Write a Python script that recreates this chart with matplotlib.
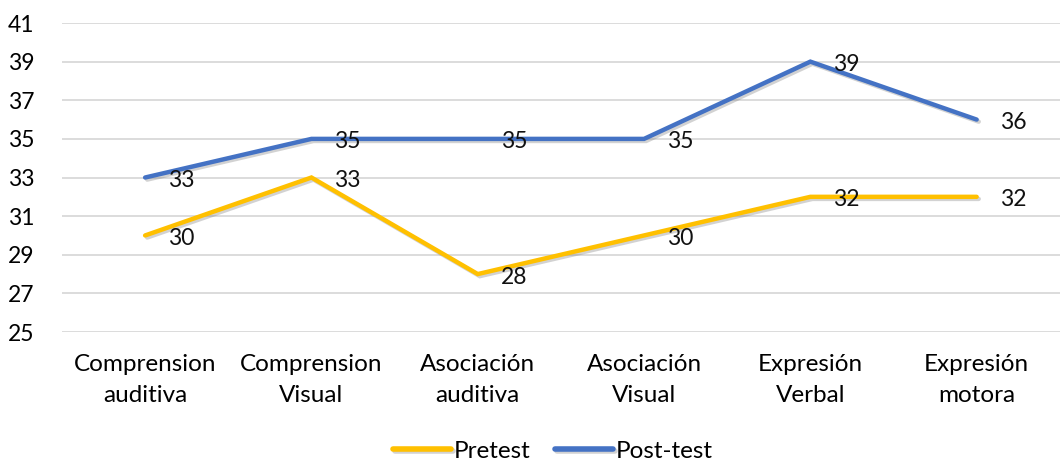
import matplotlib
matplotlib.use("Agg")
import matplotlib.pyplot as plt
import matplotlib.patheffects as pe

categories = ["Comprension\nauditiva", "Comprension\nVisual", "Asociación\nauditiva",
              "Asociación\nVisual", "Expresión\nVerbal", "Expresión\nmotora"]
pretest = [30, 33, 28, 30, 32, 32]
posttest = [33, 35, 35, 35, 39, 36]
yticks = [25, 27, 29, 31, 33, 35, 37, 39, 41]

plt.rcParams['font.family'] = ['Lato', 'DejaVu Sans']
FS = 16.5
FSX = 17.5

fig = plt.figure(figsize=(10.63, 4.65), dpi=100)
ax = fig.add_axes([0.0583, 0.286, 0.9387, 0.6645])

x = list(range(len(categories)))
shadow = [pe.SimpleLineShadow(offset=(1.5, -1.5), alpha=0.35, shadow_color='gray'), pe.Normal()]
ax.plot(x, pretest, color='#FFC000', lw=3.2, solid_capstyle='round', solid_joinstyle='miter',
        label='Pretest', path_effects=shadow, zorder=3)
ax.plot(x, posttest, color='#4472C4', lw=3.2, solid_capstyle='round', solid_joinstyle='miter',
        label='Post-test', path_effects=shadow, zorder=3)

for xi, v in zip(x, pretest):
    ax.annotate(str(v), (xi, v), xytext=(23, -3), textcoords='offset pixels',
                ha='left', va='center', fontsize=FS, color='#111111', zorder=4)
for xi, v in zip(x, posttest):
    ax.annotate(str(v), (xi, v), xytext=(23, -3), textcoords='offset pixels',
                ha='left', va='center', fontsize=FS, color='#111111', zorder=4)

ax.set_xlim(-0.5, len(categories) - 0.5)
ax.set_ylim(25, 41)
ax.set_yticks(yticks)
ax.set_xticks(x)
ax.set_xticklabels(categories, fontsize=FSX, linespacing=1.6)
ax.tick_params(axis='y', labelsize=FS, length=0, pad=20)
ax.tick_params(axis='x', length=0, pad=16)
ax.grid(axis='y', color='#D9D9D9', lw=1.3)
ax.set_axisbelow(True)
for s in ax.spines.values():
    s.set_visible(False)

leg = fig.legend(loc='lower center', bbox_to_anchor=(0.52, -0.04), ncol=2, frameon=False,
                 fontsize=FSX, handlelength=2.4, columnspacing=1.0, handletextpad=0.1)
for h in leg.get_lines():
    h.set_linewidth(4)
    h.set_solid_capstyle('round')

fig.savefig("out.png", dpi=100)
